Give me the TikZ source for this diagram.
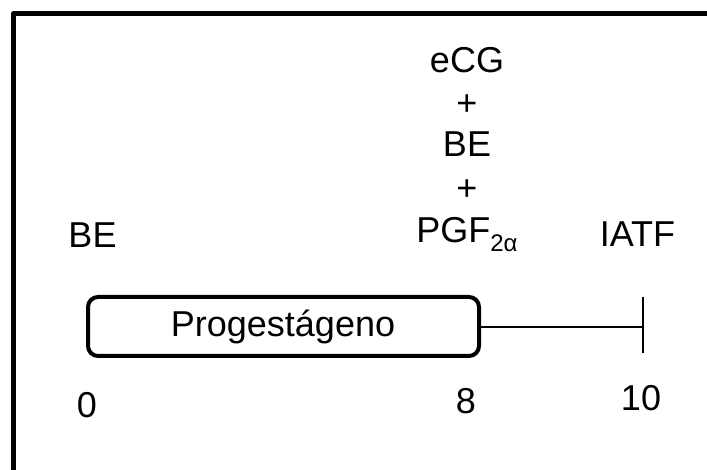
\documentclass[tikz,border=0pt]{standalone}
\usepackage{fontspec}
\setmainfont{Liberation Sans}
\begin{document}
\begin{tikzpicture}[x=1pt,y=-1pt,
  lbl/.style={inner sep=0pt,anchor=base,font=\fontsize{36}{42}\selectfont},
  frame/.style={line width=5pt,line join=round},
  pbox/.style={draw,line width=4pt,rounded corners=10pt,minimum width=391pt,minimum height=59pt,inner sep=0pt},
  thin/.style={line width=2pt}]
\useasboundingbox (0,0) rectangle (707,470);
\draw[frame] (13.5,475) -- (13.5,13.5) -- (712,13.5);
\node[pbox] (box) at (283.5,326.5) {};
\node[lbl] (prog) at (283,337) {Progestágeno};
\coordinate (tickm) at (643,327);
\coordinate (tickt) at (643,297);
\coordinate (tickb) at (643,353);
\draw[thin] (box.east |- tickm) -- (tickm);
\draw[thin] (tickt) -- (tickb);
\node[lbl] (be0) at (92.5,248) {BE};
\node[lbl] (iatf) at (637.5,247) {IATF};
\node[lbl] (ecg) at (467,73) {eCG};
\node[lbl] (p1) at (467,116) {+};
\node[lbl] (be8) at (467,157) {BE};
\node[lbl] (p2) at (467,201) {+};
\node[lbl] (pgf) at (467,243) {PGF\raisebox{-9pt}{\fontsize{24}{24}\selectfont 2α}};
\node[lbl] (d0) at (87,417) {0};
\node[lbl] (d8) at (466,413) {8};
\node[lbl] (d10) at (641,410) {10};
\end{tikzpicture}
\end{document}
